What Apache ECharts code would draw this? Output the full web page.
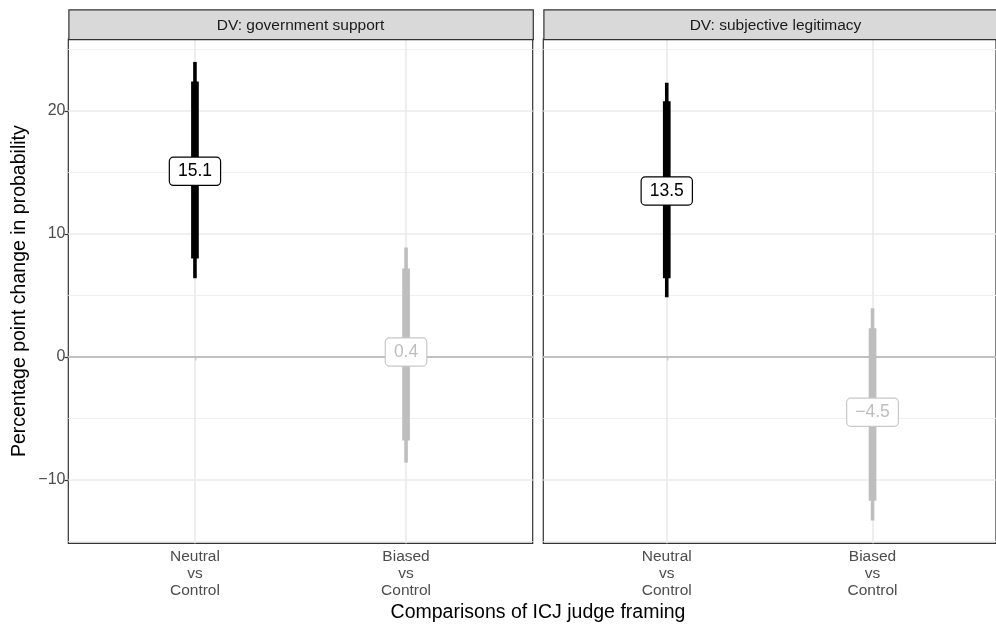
<!DOCTYPE html>
<html>
<head>
<meta charset="utf-8">
<script src="https://cdn.jsdelivr.net/npm/echarts@6.0.0/dist/echarts.min.js"></script>
<style>
  html, body { margin: 0; padding: 0; background: #ffffff; }
  #chart { width: 996px; height: 625px; }
</style>
</head>
<body>
<div id="chart"></div>
<script>
// ---- Data ----
const categories = ['Neutral\nvs\nControl', 'Biased\nvs\nControl'];
const categoryPositions = [1, 2];
const panelTitles = ['DV: government support', 'DV: subjective legitimacy'];

const govEstimate = [15.1, 0.4];
const govLow95    = [6.4, -8.6];
const govHigh95   = [24.0, 8.9];
const govLow80    = [8.0, -6.8];
const govHigh80   = [22.4, 7.2];

const legEstimate = [13.5, -4.5];
const legLow95    = [4.85, -13.3];
const legHigh95   = [22.3, 3.96];
const legLow80    = [6.4, -11.7];
const legHigh80   = [20.8, 2.33];

const yMajorTicks = [-10, 0, 10, 20];
const yMinorTicks = [-15, -5, 5, 15, 25];

const xTitle = 'Comparisons of ICJ judge framing';
const yTitle = 'Percentage point change in probability';

// ---- Styling ----
const barColors = ['#000000', '#BEBEBE'];
const labelBorderColors = ['#000000', '#C8C8C8'];
const FONT = '"Liberation Sans", Arial, sans-serif';

// y scale with 5% expansion (like ggplot)
const allLow = govLow95.concat(legLow95);
const allHigh = govHigh95.concat(legHigh95);
const dLo = Math.min.apply(null, allLow), dHi = Math.max.apply(null, allHigh);
const pad = (dHi - dLo) * 0.05;
const yMin = dLo - pad, yMax = dHi + pad;

function fmt(v) { return v.toFixed(1).replace('-', '\u2212'); }
function fmtTick(v) { return String(v).replace('-', '\u2212'); }

function buildRows(est, l95, h95, l80, h80) {
  return categoryPositions.map((x, i) => [x, est[i], l95[i], h95[i], l80[i], h80[i], i]);
}

function renderBar(params, api) {
  const x = api.value(0);
  const a95 = api.coord([x, api.value(2)]);
  const b95 = api.coord([x, api.value(3)]);
  const a80 = api.coord([x, api.value(4)]);
  const b80 = api.coord([x, api.value(5)]);
  const pe = api.coord([x, api.value(1)]);
  const ci = api.value(6);
  const color = barColors[ci];
  return {
    type: 'group',
    children: [
      { type: 'line', shape: { x1: a95[0], y1: a95[1], x2: b95[0], y2: b95[1] },
        style: { stroke: color, lineWidth: 3.6 } },
      { type: 'line', shape: { x1: a80[0], y1: a80[1], x2: b80[0], y2: b80[1] },
        style: { stroke: color, lineWidth: 7.7 } },
      { type: 'text', x: pe[0], y: pe[1], z2: 10,
        style: {
          text: fmt(api.value(1)), fill: color, font: '17.5px ' + FONT,
          align: 'center', verticalAlign: 'middle',
          backgroundColor: '#ffffff', borderColor: labelBorderColors[ci], borderWidth: 1.2,
          borderRadius: 3.5, padding: [5, 8, 4, 8]
        } }
    ]
  };
}

function gridLineSeries(gi) {
  const data = [];
  yMinorTicks.forEach(v => data.push({ yAxis: v, lineStyle: { color: '#F0F0F0', width: 1 } }));
  yMajorTicks.forEach(v => data.push({ yAxis: v, lineStyle: { color: '#EBEBEB', width: 1.7 } }));
  categoryPositions.forEach(v => data.push({ xAxis: v, lineStyle: { color: '#EBEBEB', width: 1.7 } }));
  data.push({ yAxis: 0, lineStyle: { color: '#C0C0C0', width: 1.9 } });
  return {
    type: 'line', xAxisIndex: gi, yAxisIndex: gi, data: [], z: 1, silent: true,
    markLine: { z: 1, silent: true, symbol: ['none', 'none'], label: { show: false },
      animation: false, lineStyle: { type: 'solid' }, data: data }
  };
}

const gridW = 464.4, gridH = 504.3, gridTop = 39;
const gridLefts = [68.3, 543.3];

const xAxes = gridLefts.map((l, gi) => ({
  type: 'value', gridIndex: gi, min: 0.4, max: 2.6,
  axisLine: { show: false },
  splitLine: { show: false },
  axisTick: { show: true, customValues: categoryPositions, length: 3.7,
    lineStyle: { color: '#333333', width: 1.2 } },
  axisLabel: { show: true, customValues: categoryPositions, margin: 5.5,
    color: '#4D4D4D', fontSize: 15.5, fontFamily: FONT, lineHeight: 16.7,
    formatter: v => categories[categoryPositions.indexOf(v)] }
}));

const yAxes = gridLefts.map((l, gi) => ({
  type: 'value', gridIndex: gi, min: yMin, max: yMax, show: gi === 0,
  axisLine: { show: false },
  splitLine: { show: false },
  axisTick: { show: gi === 0, customValues: yMajorTicks, length: 3.7,
    lineStyle: { color: '#333333', width: 1.2 } },
  axisLabel: { show: gi === 0, customValues: yMajorTicks, margin: 2.8,
    color: '#4D4D4D', fontSize: 16, fontFamily: FONT,
    formatter: v => fmtTick(v) }
}));

const grids = gridLefts.map(l => ({
  left: l, top: gridTop, width: gridW, height: gridH,
  show: true, backgroundColor: '#ffffff', borderColor: '#333333', borderWidth: 1.2
}));

const stripH = 29.7;
const graphics = [];
gridLefts.forEach((l, gi) => {
  graphics.push({ type: 'rect', left: l, top: gridTop - stripH, z: 10,
    shape: { width: gridW, height: stripH },
    style: { fill: '#D9D9D9', stroke: '#333333', lineWidth: 1.2 } });
  graphics.push({ type: 'text', x: l + gridW / 2, y: gridTop - stripH / 2 + 1.2, z: 11,
    style: { text: panelTitles[gi], fill: '#1A1A1A', font: '15.5px ' + FONT,
      align: 'center', verticalAlign: 'middle' } });
});
graphics.push({ type: 'text', x: (gridLefts[0] + gridLefts[1] + gridW) / 2, y: 613, z: 11,
  style: { text: xTitle, fill: '#000000', font: '19.5px ' + FONT, align: 'center', verticalAlign: 'middle' } });
graphics.push({ type: 'text', x: 20, y: gridTop + gridH / 2, rotation: Math.PI / 2, z: 11,
  style: { text: yTitle, fill: '#000000', font: '19.5px ' + FONT, align: 'center', verticalAlign: 'middle' } });

const chart = echarts.init(document.getElementById('chart'), null, { renderer: 'canvas' });
chart.setOption({
  animation: false,
  backgroundColor: '#ffffff',
  grid: grids,
  xAxis: xAxes,
  yAxis: yAxes,
  graphic: graphics,
  series: [
    gridLineSeries(0),
    gridLineSeries(1),
    { type: 'custom', xAxisIndex: 0, yAxisIndex: 0, z: 3, renderItem: renderBar,
      data: buildRows(govEstimate, govLow95, govHigh95, govLow80, govHigh80) },
    { type: 'custom', xAxisIndex: 1, yAxisIndex: 1, z: 3, renderItem: renderBar,
      data: buildRows(legEstimate, legLow95, legHigh95, legLow80, legHigh80) }
  ]
});
</script>
</body>
</html>
